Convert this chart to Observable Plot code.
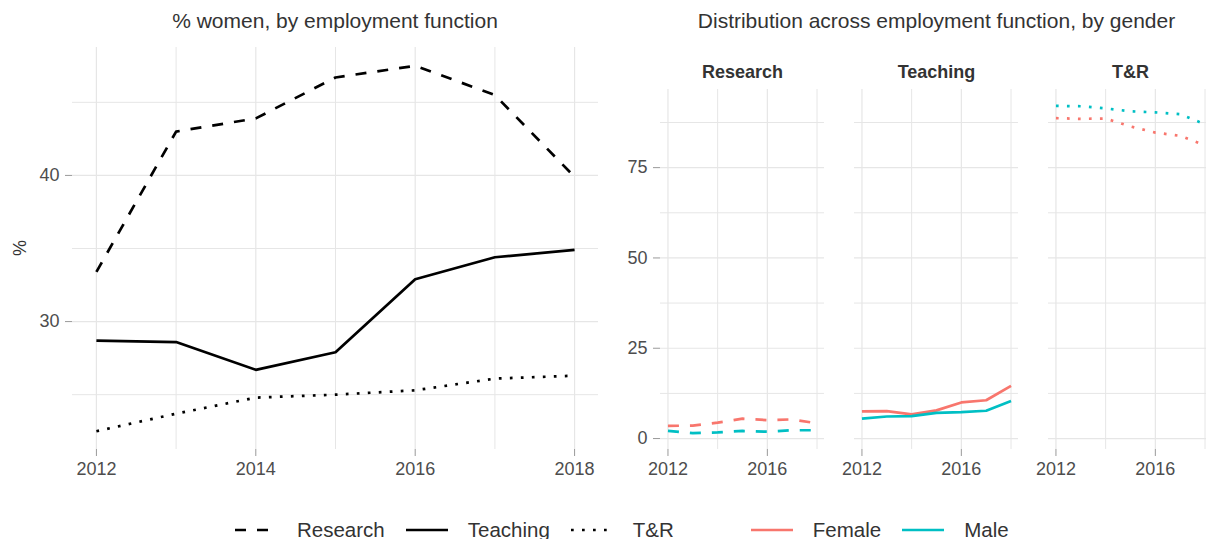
<!DOCTYPE html>
<html>
<head>
<meta charset="utf-8">
<script src="https://cdn.jsdelivr.net/npm/d3@7"></script>
<script src="https://cdn.jsdelivr.net/npm/@observablehq/plot@0.6"></script>
<style>
  html, body { margin: 0; padding: 0; background: #fff; }
  body { width: 1206px; height: 539px; overflow: hidden; position: relative; font-family: "Liberation Sans", Arial, sans-serif; }
  .title { position: absolute; top: 10px; font-size: 21px; line-height: 21px; color: #333; text-align: center; white-space: nowrap; }
  #left { position: absolute; left: 0; top: 0; }
  #right { position: absolute; left: 610px; top: 0; width: 596px; height: 480px; overflow: hidden; }
  #right svg, #left svg { max-width: none !important; height: 480px !important; }
  #legend { position: absolute; left: 235px; top: 520px; display: flex; align-items: center; font-size: 20.5px; line-height: 20.5px; color: #333; white-space: nowrap; }
  .key { display: flex; align-items: center; }
  .key svg { display: block; margin-right: 20px; }
  .key span { margin-right: 21px; }
</style>
</head>
<body>
<div id="left"></div>
<div id="right"></div>
<div class="title" id="t1" style="left:72px;width:526px;">% women, by employment function</div>
<div class="title" id="t2" style="left:660px;width:553px;">Distribution across employment function, by gender</div>
<div id="legend"></div>
<script>
// ---- data ----
const years = [2012, 2013, 2014, 2015, 2016, 2017, 2018];
const functions = ["Research", "Teaching", "T&R"];
const genders = ["Female", "Male"];

// % women by employment function
const womenResearch = [33.4, 43.0, 43.9, 46.7, 47.5, 45.5, 39.9];
const womenTeaching = [28.7, 28.6, 26.7, 27.9, 32.9, 34.4, 34.9];
const womenTR = [22.5, 23.7, 24.8, 25.0, 25.3, 26.1, 26.3];

// distribution across employment function, by gender
const femaleResearch = [3.5, 3.6, 4.4, 5.5, 5.1, 5.3, 4.2];
const femaleTeaching = [7.5, 7.6, 6.7, 7.8, 10.0, 10.6, 14.6];
const femaleTR = [88.7, 88.5, 88.6, 86.4, 84.7, 83.8, 81.2];
const maleResearch = [2.1, 1.5, 1.7, 2.1, 1.9, 2.3, 2.3];
const maleTeaching = [5.5, 6.1, 6.2, 7.1, 7.3, 7.7, 10.4];
const maleTR = [92.1, 92.0, 91.4, 90.6, 90.3, 89.8, 87.0];

// tick labels / breaks
const leftXMajor = [2012, 2014, 2016, 2018];
const leftXMinor = [2013, 2015, 2017];
const leftYMajor = [30, 40];
const leftYMinor = [25, 35, 45];
const rightXMajor = [2012, 2016];
const rightXMinor = [2014, 2018];
const rightYMajor = [0, 25, 50, 75];
const rightYMinor = [12.5, 37.5, 62.5, 87.5];

// ---- tables ----
const womenSeries = {Research: womenResearch, Teaching: womenTeaching, "T&R": womenTR};
const women = functions.flatMap(f => years.map((y, i) => ({func: f, year: y, value: womenSeries[f][i]})));
const distSeries = {
  Female: {Research: femaleResearch, Teaching: femaleTeaching, "T&R": femaleTR},
  Male: {Research: maleResearch, Teaching: maleTeaching, "T&R": maleTR}
};
const dist = functions.flatMap(f => genders.flatMap(g => years.map((y, i) => ({func: f, gender: g, year: y, value: distSeries[g][f][i]}))));

// ---- styles ----
const LW = 2.7;
const dash = {Research: "11,11", Teaching: null, "T&R": "2.7,8.3"};
const gridColor = "#e6e6e6";
const tickColor = "#999";
const font = {fontFamily: "'Liberation Sans', Arial, sans-serif", fontSize: "18px", color: "#4d4d4d", background: "transparent", overflow: "visible", maxWidth: "none"};
const xFmt = d => String(d);

// ---- left chart ----
const left = Plot.plot({
  width: 610, height: 480,
  marginLeft: 72, marginRight: 12, marginTop: 47, marginBottom: 31,
  style: font,
  x: {domain: [2011.7, 2018.3], label: null},
  y: {domain: [21.25, 48.75], label: null},
  marks: [
    Plot.ruleX(leftXMinor, {stroke: gridColor, strokeWidth: 1}),
    Plot.ruleY(leftYMinor, {stroke: gridColor, strokeWidth: 1}),
    Plot.ruleX(leftXMajor, {stroke: gridColor, strokeWidth: 1.2}),
    Plot.ruleY(leftYMajor, {stroke: gridColor, strokeWidth: 1.2}),
    Plot.axisX(leftXMajor, {tickSize: 7, tickPadding: 6, tickFormat: xFmt, stroke: tickColor, fill: "#4d4d4d", label: null}),
    Plot.axisY(leftYMajor, {tickSize: 7, tickPadding: 6, stroke: tickColor, fill: "#4d4d4d", label: null}),
    ...functions.map(f => Plot.line(women.filter(d => d.func === f), {
      x: "year", y: "value", stroke: "black", strokeWidth: LW,
      strokeDasharray: dash[f], strokeLinecap: "butt", strokeLinejoin: "round"
    }))
  ]
});
document.getElementById("left").appendChild(left);
// y axis title
{
  const svg = d3.select(left);
  svg.append("text").attr("transform", "translate(26,248) rotate(-90)")
    .attr("text-anchor", "middle").attr("fill", "#333").attr("font-size", 18).text("%");
}

// ---- right chart (facets) ----
const right = Plot.plot({
  width: 602.4, height: 480,
  marginLeft: 49.5, marginRight: 0, marginTop: 89, marginBottom: 31,
  style: font,
  fx: {domain: functions, paddingInner: 0.1544, paddingOuter: 0, axis: null, label: null},
  x: {domain: [2011.7, 2018.3], label: null},
  y: {domain: [-3.03, 96.63], label: null},
  color: {domain: genders, range: ["#F8766D", "#00BFC4"]},
  marks: [
    Plot.ruleX(rightXMinor, {stroke: gridColor, strokeWidth: 1}),
    Plot.ruleY(rightYMinor, {stroke: gridColor, strokeWidth: 1}),
    Plot.ruleX(rightXMajor, {stroke: gridColor, strokeWidth: 1.2}),
    Plot.ruleY(rightYMajor, {stroke: gridColor, strokeWidth: 1.2}),
    Plot.axisX(rightXMajor, {tickSize: 7, tickPadding: 6, tickFormat: xFmt, stroke: tickColor, fill: "#4d4d4d", label: null}),
    Plot.axisY(rightYMajor, {tickSize: 7, tickPadding: 6, stroke: tickColor, fill: "#4d4d4d", label: null}),
    Plot.text(functions, {fx: d => d, text: d => d, frameAnchor: "top", lineAnchor: "bottom", dy: -12,
      fontWeight: "bold", fontSize: 18, fill: "#333"}),
    ...functions.map(f => Plot.line(dist.filter(d => d.func === f), {
      fx: "func", x: "year", y: "value", z: "gender", stroke: "gender", strokeWidth: LW,
      strokeDasharray: dash[f], strokeLinecap: "butt", strokeLinejoin: "round"
    }))
  ]
});
document.getElementById("right").appendChild(right);

// ---- legend ----
const legend = d3.select("#legend");
const legendItems = [
  ...functions.map(f => ({label: f, stroke: "black", dash: dash[f]})),
  {spacer: true},
  ...genders.map((g, i) => ({label: g, stroke: ["#F8766D", "#00BFC4"][i], dash: null}))
];
legendItems.forEach(it => {
  if (it.spacer) { legend.append("div").style("width", "56px"); return; }
  const k = legend.append("div").attr("class", "key");
  const s = k.append("svg").attr("width", 42).attr("height", 20);
  s.append("line").attr("x1", 0).attr("x2", 42).attr("y1", 10).attr("y2", 10)
    .attr("stroke", it.stroke).attr("stroke-width", LW)
    .attr("stroke-dasharray", it.dash).attr("stroke-linecap", "butt");
  k.append("span").text(it.label);
});
</script>
</body>
</html>
